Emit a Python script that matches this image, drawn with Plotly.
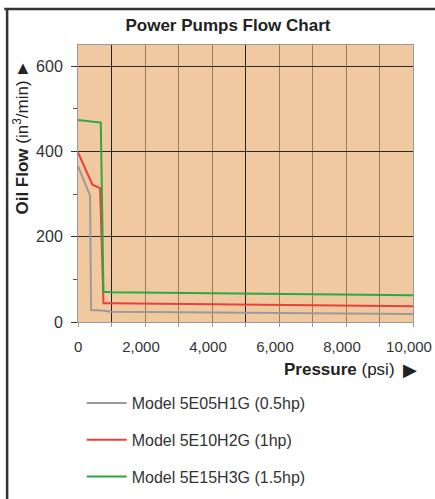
import plotly.graph_objects as go

# pressure (psi) / oil flow (in^3/min)
gray_x = [0, 360, 390, 700, 1000, 10000]
gray_y = [365, 297, 28, 27, 24, 19]

red_x = [0, 370, 430, 660, 760, 1000, 10000]
red_y = [398, 333, 322, 314, 44, 44, 37]

green_x = [0, 680, 760, 1000, 10000]
green_y = [474, 468, 71, 70, 63]

names = ["Model 5E05H1G (0.5hp)", "Model 5E10H2G (1hp)", "Model 5E15H3G (1.5hp)"]
colors = ["#9a9a9a", "#e8403a", "#2aa845"]

x_ticks = list(range(0, 10001, 1000))
x_text = ["\u00a0\u00a00"] + [f"{v:,}" if v % 2000 == 0 else "" for v in x_ticks[1:]]
dark_x = [1000, 5000]

FONT = "Liberation Sans, Arial, sans-serif"

fig = go.Figure()
for i, (xs, ys) in enumerate([(gray_x, gray_y), (red_x, red_y), (green_x, green_y)]):
    fig.add_trace(go.Scatter(x=xs, y=ys, mode="lines", name=names[i],
                             legendgroup=str(i),
                             line=dict(color=colors[i], width=2)))

# helper trace on second x axis for the dark gridlines
fig.add_trace(go.Scatter(x=[0, 10000], y=[None, None], xaxis="x2", showlegend=False,
                         hoverinfo="skip"))

fig.update_layout(
    width=435, height=499,
    margin=dict(l=78, r=22, t=45, b=177),
    paper_bgcolor="white",
    plot_bgcolor="#F1C9A1",
    font=dict(family=FONT, size=16, color="#333333"),
    title=dict(text="<b>Power Pumps Flow Chart</b>", x=0.524, xref="container",
               xanchor="center", y=0.95, yanchor="middle",
               font=dict(size=17, color="#222222")),
    xaxis=dict(range=[0, 10000], tickvals=x_ticks, ticktext=x_text,
               tickfont=dict(size=15),
               showgrid=True, gridcolor="#9c7a5a", gridwidth=1,
               zeroline=False, showline=True, linecolor="#9a9a9a", mirror=True,
               ticks="outside", ticklen=4, tickcolor="#9a9a9a",
               ticklabelstandoff=7, ticklabelshift=-4,
               ticklabeloverflow="allow", automargin=False),
    xaxis2=dict(range=[0, 10000], overlaying="x", tickvals=dark_x,
                showticklabels=False, showgrid=True, gridcolor="#222222",
                gridwidth=1, zeroline=False, showline=False, automargin=False),
    yaxis=dict(range=[0, 650], dtick=200, showgrid=True, gridcolor="#2a2a2a",
               zeroline=False, showline=True, linecolor="#9a9a9a", mirror=True,
               ticks="outside", ticklen=6, tickcolor="#333333",
               minor=dict(dtick=100, ticks="outside", ticklen=4,
                          tickcolor="#555555", showgrid=False),
               ticklabelstandoff=5, automargin=False),
    legend=dict(x=0.011, y=0.2265, xref="paper", yref="container",
                xanchor="left", yanchor="top",
                tracegroupgap=13, itemwidth=40, bgcolor="rgba(0,0,0,0)",
                font=dict(size=16, color="#333333")),
    annotations=[
        dict(text="<b>Oil Flow</b> (in<sup>3</sup>/min)", textangle=-90,
             xref="paper", yref="paper", x=-0.170, y=0.63,
             xanchor="center", yanchor="middle", showarrow=False,
             font=dict(size=17, color="#222222")),
        dict(text="▲", xref="paper", yref="paper", x=-0.165, y=0.917,
             xanchor="center", yanchor="middle", showarrow=False,
             font=dict(size=18, color="#222222")),
        dict(text="<b>Pressure</b> (psi)", xref="paper", yref="paper",
             x=0.953, y=-0.173, xanchor="right", yanchor="middle",
             showarrow=False, font=dict(size=17, color="#222222")),
        dict(text="▶", xref="paper", yref="paper", x=0.992, y=-0.173,
             xanchor="center", yanchor="middle", showarrow=False,
             font=dict(size=18, color="#222222")),
    ],
    shapes=[
        # outer frame: top and left edges only are in view
        dict(type="line", xref="paper", yref="paper", layer="above",
             x0=-0.22, x1=1.2, y0=1.13, y1=1.13,
             line=dict(color="#333333", width=2.5)),
        dict(type="line", xref="paper", yref="paper", layer="above",
             x0=-0.2116, x1=-0.2116, y0=-0.8, y1=1.13,
             line=dict(color="#333333", width=2.5)),
    ],
)

fig.write_html("out.html", config={"displayModeBar": False},
               post_script="document.body.style.margin='0';")
